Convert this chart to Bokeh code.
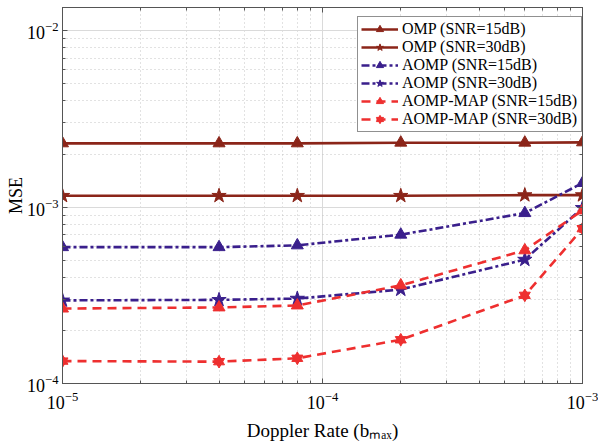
from bokeh.plotting import figure
from bokeh.models import LogAxis, LogTicker, Range1d, CustomJSTickFormatter
from bokeh.embed import file_html
from bokeh.resources import INLINE

# ---- data ----
doppler = [1e-5, 4e-5, 8e-5, 2e-4, 6e-4, 1e-3]
omp_15 = [2.30e-3, 2.30e-3, 2.30e-3, 2.32e-3, 2.32e-3, 2.33e-3]
omp_30 = [1.16e-3, 1.16e-3, 1.16e-3, 1.16e-3, 1.17e-3, 1.17e-3]
aomp_15 = [5.93e-4, 5.93e-4, 6.07e-4, 6.98e-4, 9.25e-4, 1.37e-3]
aomp_30 = [2.96e-4, 2.98e-4, 3.03e-4, 3.41e-4, 5.04e-4, 9.90e-4]
map_15 = [2.66e-4, 2.70e-4, 2.77e-4, 3.60e-4, 5.69e-4, 9.58e-4]
map_30 = [1.34e-4, 1.33e-4, 1.39e-4, 1.77e-4, 3.16e-4, 7.55e-4]

labels = ["OMP (SNR=15dB)", "OMP (SNR=30dB)", "AOMP (SNR=15dB)",
          "AOMP (SNR=30dB)", "AOMP-MAP (SNR=15dB)", "AOMP-MAP (SNR=30dB)"]
x_title = "Doppler Rate (b\u2098\u2090\u2093)"
y_title = "MSE"

C_OMP = "#8B2519"
C_AOMP = "#3A1F8C"
C_MAP = "#EE2F2F"
FONT = "Liberation Serif"

p = figure(width=598, height=445, x_axis_type="log", y_axis_type="log",
           x_range=Range1d(1e-5, 1e-3), y_range=Range1d(1e-4, 0.01355),
           output_backend="svg", toolbar_location=None,
           min_border_left=62, min_border_right=16, min_border_top=7,
           min_border_bottom=62)

p.outline_line_color = "#555555"
p.outline_line_width = 1

for ax in (p.xaxis[0], p.yaxis[0]):
    ax.ticker = LogTicker(num_minor_ticks=10)
    ax.major_tick_in = 5
    ax.major_tick_out = 0
    ax.minor_tick_in = 3
    ax.minor_tick_out = 0
    ax.axis_line_color = "#555555"
    ax.major_tick_line_color = "#555555"
    ax.minor_tick_line_color = "#555555"
    ax.major_label_text_font = FONT
    ax.major_label_text_font_size = "18px"
    ax.major_label_text_color = "black"
    ax.axis_label_text_font = FONT
    ax.axis_label_text_font_style = "normal"
    ax.axis_label_text_color = "black"
p.xaxis.major_label_standoff = 8
p.yaxis.major_label_standoff = 4
p.xaxis.axis_label = x_title
p.xaxis.axis_label_text_font_size = "19px"
p.xaxis.axis_label_standoff = 8
p.yaxis.axis_label = y_title
p.yaxis.axis_label_text_font_size = "18px"
p.yaxis.axis_label_standoff = -2

for loc in ("right", "above"):
    ax = LogAxis(ticker=LogTicker(num_minor_ticks=10),
                 formatter=CustomJSTickFormatter(code="return ''"),
                 major_tick_in=5, major_tick_out=0, minor_tick_in=3, minor_tick_out=0,
                 major_label_standoff=0,
                 axis_line_color="#555555", major_tick_line_color="#555555",
                 minor_tick_line_color="#555555")
    p.add_layout(ax, loc)

for g in (p.xgrid[0], p.ygrid[0]):
    g.ticker = LogTicker(num_minor_ticks=10)
    g.grid_line_color = "#DADADA"
    g.grid_line_width = 1
    g.minor_grid_line_color = "#C4C4C4"
    g.minor_grid_line_dash = "1 3"
    g.minor_grid_line_width = 1

LW = 2.6
SOLID = "solid"
DASHDOT = "8 3 3 3"
DASHED = "9 6"

# OMP
p.line(doppler, omp_15, color=C_OMP, line_width=LW, line_dash=SOLID, legend_label=labels[0])
p.scatter(doppler, omp_15, marker="triangle", size=12, color=C_OMP, legend_label=labels[0])
p.line(doppler, omp_30, color=C_OMP, line_width=LW, line_dash=SOLID, legend_label=labels[1])
p.scatter(doppler, omp_30, marker="star", size=15, color=C_OMP, legend_label=labels[1])
# AOMP
p.line(doppler, aomp_15, color=C_AOMP, line_width=LW, line_dash=DASHDOT, legend_label=labels[2])
p.scatter(doppler, aomp_15, marker="triangle", size=12, color=C_AOMP, legend_label=labels[2])
p.line(doppler, aomp_30, color=C_AOMP, line_width=LW, line_dash=DASHDOT, legend_label=labels[3])
p.scatter(doppler, aomp_30, marker="star", size=15, color=C_AOMP, legend_label=labels[3])
# AOMP-MAP
p.line(doppler, map_15, color=C_MAP, line_width=LW, line_dash=DASHED, legend_label=labels[4])
p.scatter(doppler, map_15, marker="triangle", size=12, color=C_MAP, legend_label=labels[4])
p.line(doppler, map_30, color=C_MAP, line_width=LW, line_dash=DASHED, legend_label=labels[5])
p.scatter(doppler, map_30, marker="triangle", size=11, color=C_MAP, legend_label=labels[5])
p.scatter(doppler, map_30, marker="inverted_triangle", size=11, color=C_MAP, legend_label=labels[5])

lg = p.legend[0]
lg.location = (295, 251)
lg.label_text_font = FONT
lg.label_text_font_size = "16px"
lg.label_text_color = "black"
lg.border_line_color = "#222222"
lg.border_line_width = 1
lg.background_fill_color = "white"
lg.background_fill_alpha = 1
lg.padding = 3
lg.spacing = 0
lg.margin = 0
lg.label_height = 18
lg.glyph_height = 18
lg.glyph_width = 37
lg.label_standoff = 4
lg.label_width = 176

open("out.html", "w").write(file_html(p, INLINE))
